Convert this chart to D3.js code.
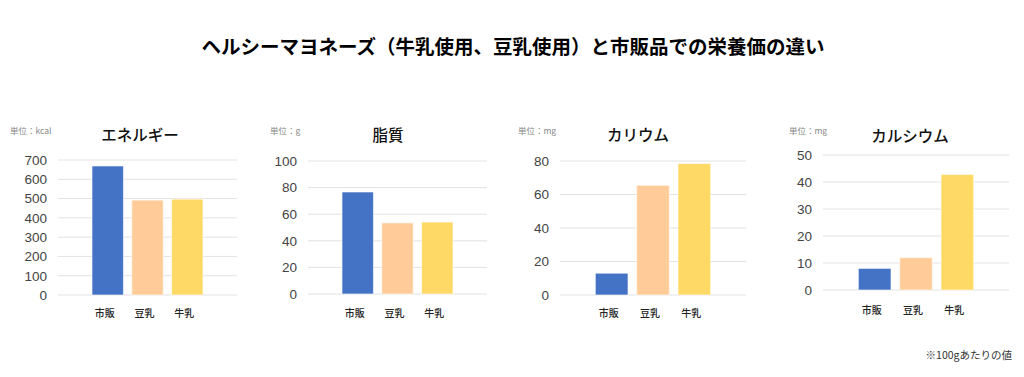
<!DOCTYPE html>
<html><head><meta charset="utf-8">
<script src="https://cdn.jsdelivr.net/npm/d3@7"></script>
<style>
html,body{margin:0;padding:0;background:#fff;}
svg{display:block;}
</style></head>
<body><svg id="c" width="1024" height="377"></svg>
<script>
const mainTitle = "ヘルシーマヨネーズ（牛乳使用、豆乳使用）と市販品での栄養価の違い";
const footnote = "※100gあたりの値";
const categories = ["市販", "豆乳", "牛乳"];
const colors = ["#4472C4", "#FFCC99", "#FFD966"];
const panelTitles = ["エネルギー", "脂質", "カリウム", "カルシウム"];
const units = ["単位：kcal", "単位：g", "単位：mg", "単位：mg"];
const energyValues = [669, 492, 497];
const fatValues = [76.7, 53.5, 54.1];
const potassiumValues = [13, 65.5, 78.5];
const calciumValues = [8, 12, 42.8];
const energyTicks = [0, 100, 200, 300, 400, 500, 600, 700];
const fatTicks = [0, 20, 40, 60, 80, 100];
const potassiumTicks = [0, 20, 40, 60, 80];
const calciumTicks = [0, 10, 20, 30, 40, 50];

const seriesValues = [energyValues, fatValues, potassiumValues, calciumValues];
const seriesTicks = [energyTicks, fatTicks, potassiumTicks, calciumTicks];

// layout
const panels = [
  {x0: 58, x1: 237, yTop: 160, yBot: 295, unitX: 10, titleX: 140, titleY: 141, catY: 317},
  {x0: 308, x1: 487, yTop: 161, yBot: 294, unitX: 270, titleX: 388, titleY: 141, catY: 317},
  {x0: 560, x1: 746, yTop: 161, yBot: 295, unitX: 518, titleX: 638, titleY: 141, catY: 317},
  {x0: 823, x1: 1009, yTop: 155, yBot: 290, unitX: 789, titleX: 910, titleY: 142, catY: 314}
];

const svg = d3.select("#c");
const jp = "'Noto Sans CJK JP','Noto Sans',sans-serif";
const num = "'Liberation Sans',Arial,sans-serif";

svg.append("text").attr("x", 513).attr("y", 54).attr("text-anchor", "middle")
  .attr("font-family", jp).attr("font-size", 19.5).attr("font-weight", "bold").attr("fill", "#000")
  .text(mainTitle);

svg.append("text").attr("x", 1012).attr("y", 359).attr("text-anchor", "end")
  .attr("font-family", jp).attr("font-size", 10.5).attr("fill", "#333")
  .text(footnote);

panels.forEach((p, i) => {
  const g = svg.append("g");
  const ticks = seriesTicks[i];
  const vals = seriesValues[i];
  const w = p.x1 - p.x0;
  const y = d3.scaleLinear().domain([0, d3.max(ticks)]).range([p.yBot, p.yTop]);
  const x = d3.scaleBand().domain(categories).range([p.x0 + 0.19 * w, p.x0 + 0.81 * w])
    .paddingInner(0.21).paddingOuter(0);

  // gridlines
  g.selectAll("line.grid").data(ticks).join("line")
    .attr("x1", p.x0).attr("x2", p.x1)
    .attr("y1", d => y(d)).attr("y2", d => y(d))
    .attr("stroke", "#e2e2e2").attr("stroke-width", 1);

  // axis
  const ax = g.append("g").attr("transform", `translate(${p.x0},0)`)
    .call(d3.axisLeft(y).tickValues(ticks).tickSize(0).tickPadding(11).tickFormat(d3.format("d")));
  ax.select(".domain").remove();
  ax.selectAll("text").attr("font-family", num).attr("font-size", 13.5).attr("fill", "#444");

  // bars
  g.selectAll("rect.bar").data(vals).join("rect")
    .attr("x", (d, j) => x(categories[j]))
    .attr("width", x.bandwidth())
    .attr("y", d => y(d))
    .attr("height", d => p.yBot - y(d))
    .attr("fill", (d, j) => colors[j])
    .attr("stroke", "rgba(255,255,255,0.6)").attr("stroke-width", 1);

  // category labels
  g.selectAll("text.cat").data(categories).join("text")
    .attr("x", d => x(d) + x.bandwidth() / 2 - 3)
    .attr("y", p.catY)
    .attr("text-anchor", "middle")
    .attr("font-family", jp).attr("font-size", 10).attr("font-weight", 500).attr("fill", "#222")
    .text(d => d);

  // panel title
  g.append("text").attr("x", p.titleX).attr("y", p.titleY).attr("text-anchor", "middle")
    .attr("font-family", jp).attr("font-size", 15.5).attr("font-weight", 500).attr("fill", "#111").text(panelTitles[i]);

  // unit
  g.append("text").attr("x", p.unitX).attr("y", 134)
    .attr("font-family", jp).attr("font-size", 8.5).attr("fill", "#888").text(units[i]);
});
</script>
</body></html>
